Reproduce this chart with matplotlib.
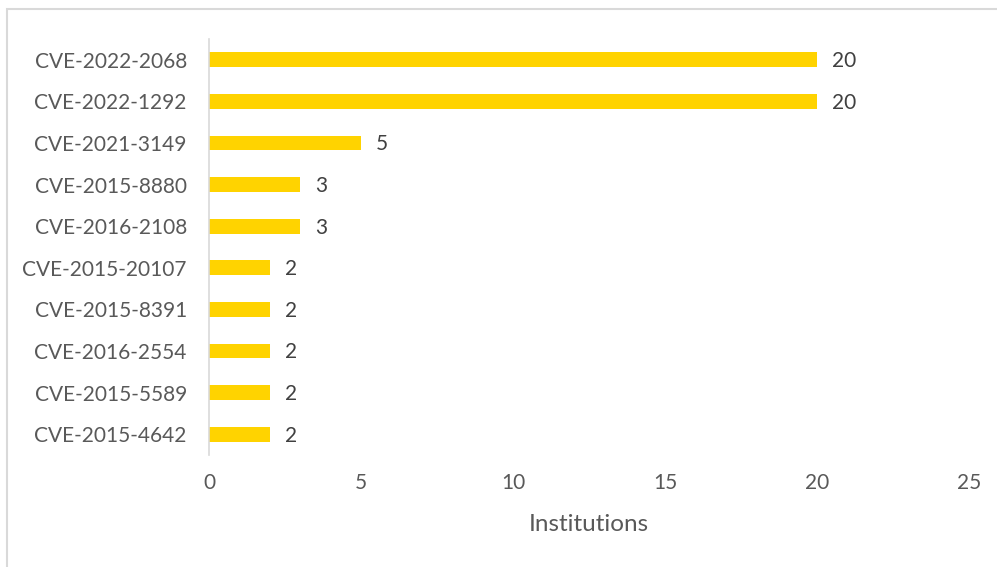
import matplotlib.pyplot as plt
from matplotlib.patches import Rectangle

plt.rcParams['font.family'] = ['Lato', 'DejaVu Sans']

# data (bottom to top)
cves = ['CVE-2015-4642', 'CVE-2015-5589', 'CVE-2016-2554', 'CVE-2015-8391',
        'CVE-2015-20107', 'CVE-2016-2108', 'CVE-2015-8880', 'CVE-2021-3149',
        'CVE-2022-1292', 'CVE-2022-2068']
institutions = [2, 2, 2, 2, 2, 3, 3, 5, 20, 20]
x_ticks = [0, 5, 10, 15, 20, 25]

fig = plt.figure(figsize=(9.97, 5.67), dpi=100)
fig.patches.append(Rectangle((7 / 997, -0.1), 1.2, 1.1 - 9 / 567, transform=fig.transFigure,
                             fill=False, edgecolor='#D9D9D9', linewidth=1.5))

ax = fig.add_axes([209 / 997, 1 - 455 / 567, (969 - 209) / 997, (455 - 39) / 567])
ypos = range(len(cves))
ax.barh(ypos, institutions, height=0.36, color='#FFD300')

for y, v in zip(ypos, institutions):
    ax.annotate(str(v), (v, y), xytext=(11, -1), textcoords='offset points',
                va='center', ha='left', fontsize=15, color='#404040')

ax.set_xlim(0, 25)
ax.set_ylim(-0.5, len(cves) - 0.5)
ax.set_xticks(x_ticks)
ax.set_yticks(list(ypos))
ax.set_yticklabels(cves)
ax.tick_params(axis='both', length=0, labelsize=15, labelcolor='#595959')
ax.tick_params(axis='x', pad=13)
ax.tick_params(axis='y', pad=16)
for s in ['top', 'right', 'bottom']:
    ax.spines[s].set_visible(False)
ax.spines['left'].set_color('#D9D9D9')
ax.spines['left'].set_linewidth(1.2)
ax.set_xlabel('Institutions', fontsize=17.5, color='#595959', labelpad=15)

fig.savefig('out.png', dpi=100, facecolor='white')
